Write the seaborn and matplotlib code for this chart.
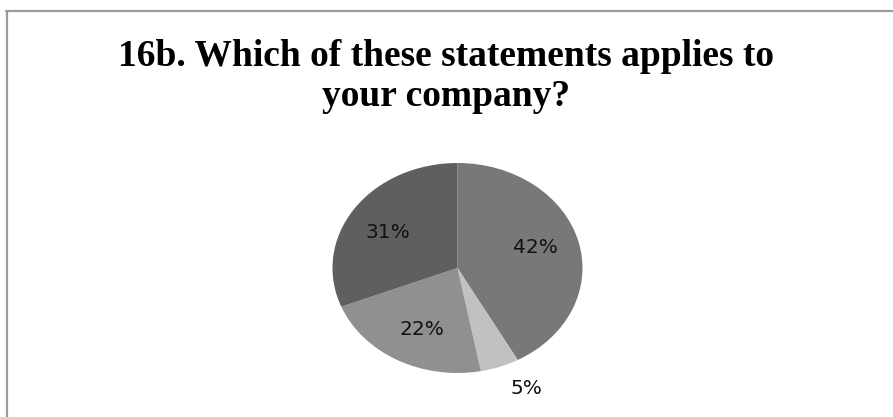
import matplotlib
matplotlib.use("Agg")
import matplotlib.pyplot as plt
from matplotlib.lines import Line2D
import seaborn as sns
import numpy as np

categories = ["Statement A", "Statement B", "Statement C", "Statement D"]
values = [42, 5, 22, 31]
labels = ["42%", "5%", "22%", "31%"]
colors = ["#787878", "#c1c1c1", "#909090", "#5f5f5f"]
title_lines = ["16b. Which of these statements applies to", "your company?"]

sns.set_theme(style="white")
plt.rcParams['font.family'] = ['DejaVu Sans']

W, H = 893, 417
fig = plt.figure(figsize=(W / 100, H / 100), dpi=100)
fig.patch.set_facecolor("white")

# pie axes (slightly elliptical, like the reference)
cx, cy, rx, ry = 457.5, 268, 125, 105
ax = fig.add_axes([(cx - rx) / W, (H - cy - ry) / H, 2 * rx / W, 2 * ry / H])
wedges, _ = ax.pie(values, colors=colors, startangle=90, counterclock=False,
                   wedgeprops=dict(linewidth=0))
ax.set_aspect("auto")
ax.set_xlim(-1, 1)
ax.set_ylim(-1, 1)
ax.axis("off")

for w, lab, v in zip(wedges, labels, values):
    mid = (w.theta1 + w.theta2) / 2
    if v < 10:
        r, ang = 1.27, np.deg2rad(mid + 6)
    else:
        r, ang = 0.65, np.deg2rad(mid + 3)
    ax.text(r * np.cos(ang), r * np.sin(ang), lab, ha="center", va="center",
            fontsize=14.5, color="#111111", clip_on=False)

for i, line in enumerate(title_lines):
    fig.text(0.5, (H - 66 - 40 * i) / H, line,
             ha="center", va="baseline", fontsize=27, fontweight="bold",
             family="Liberation Serif", color="black")

# partial frame (top and left edges)
fig.add_artist(Line2D([7 / W, 7 / W], [0, (H - 11) / H], color="#9a9a9a", lw=1.6,
                      transform=fig.transFigure))
fig.add_artist(Line2D([6 / W, 1], [(H - 11) / H, (H - 11) / H], color="#9a9a9a", lw=1.6,
                      transform=fig.transFigure))

fig.savefig("out.png", dpi=100, facecolor="white")
